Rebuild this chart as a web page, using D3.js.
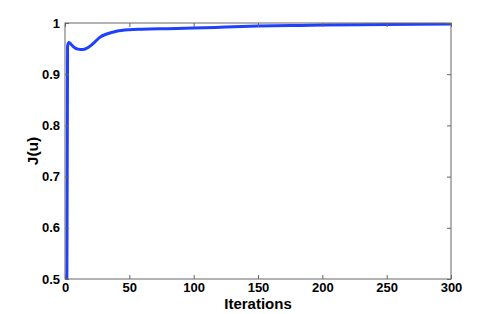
<!DOCTYPE html>
<html><head><meta charset="utf-8">
<script src="https://cdn.jsdelivr.net/npm/d3@7"></script>
<style>body{margin:0;background:#fff}svg{display:block}text{font-family:"Liberation Sans",Arial,Helvetica,sans-serif;font-weight:bold}</style>
</head><body>
<script>
const iterations = [1, 2, 3, 4, 6, 8, 10, 14, 18, 22, 27, 33, 40, 50, 60, 80, 100, 125, 150, 175, 200, 250, 300];
const jValues   = [0.1, 0.955, 0.962, 0.960, 0.955, 0.951, 0.949, 0.948, 0.952, 0.960, 0.972, 0.979, 0.984, 0.987, 0.988, 0.989, 0.990, 0.992, 0.994, 0.995, 0.996, 0.997, 0.998];
const xTicks = [0, 50, 100, 150, 200, 250, 300];
const yTicks = [0.5, 0.6, 0.7, 0.8, 0.9, 1];
const xLabel = "Iterations", yLabel = "J(u)";

const W = 498, H = 314;
const m = {l: 65, r: 47, t: 23, b: 35};
const svg = d3.select("body").append("svg").attr("width", W).attr("height", H);
const x = d3.scaleLinear().domain([0, 300]).range([m.l, W - m.r]);
const y = d3.scaleLinear().domain([0.5, 1]).range([H - m.b, m.t]);
const axisColor = "#666";

svg.append("clipPath").attr("id", "clip").append("rect")
  .attr("x", m.l).attr("y", m.t).attr("width", W - m.l - m.r).attr("height", H - m.t - m.b);

const line = d3.line().x((d, i) => x(iterations[i])).y(d => y(d)).curve(d3.curveMonotoneX);
svg.append("path").datum(jValues).attr("d", line).attr("clip-path", "url(#clip)")
  .attr("fill", "none").attr("stroke", "#2040ff").attr("stroke-width", 3).attr("stroke-linejoin", "round");

function styleAxis(g, labels) {
  g.select(".domain").remove();
  g.selectAll(".tick line").attr("stroke", axisColor);
  g.selectAll(".tick text").attr("fill", labels ? "#000" : "none").style("font-size", "13px");
}
svg.append("g").attr("transform", `translate(0,${H - m.b})`)
  .call(d3.axisBottom(x).tickValues(xTicks).tickSizeInner(-4).tickSizeOuter(0).tickPadding(4).tickFormat(d3.format("d")))
  .call(g => styleAxis(g, true));
svg.append("g").attr("transform", `translate(0,${m.t})`)
  .call(d3.axisTop(x).tickValues(xTicks).tickSizeInner(-4).tickSizeOuter(0).tickFormat(""))
  .call(g => styleAxis(g, false));
svg.append("g").attr("transform", `translate(${m.l},0)`)
  .call(d3.axisLeft(y).tickValues(yTicks).tickSizeInner(-4).tickSizeOuter(0).tickPadding(5).tickFormat(d => d === 1 ? "1" : d3.format(".1f")(d)))
  .call(g => styleAxis(g, true));
svg.append("g").attr("transform", `translate(${W - m.r},0)`)
  .call(d3.axisRight(y).tickValues(yTicks).tickSizeInner(-4).tickSizeOuter(0).tickFormat(""))
  .call(g => styleAxis(g, false));

svg.append("rect").attr("x", m.l).attr("y", m.t).attr("width", W - m.l - m.r).attr("height", H - m.t - m.b)
  .attr("fill", "none").attr("stroke", axisColor).attr("stroke-width", 1);

svg.append("text").attr("x", (m.l + W - m.r) / 2).attr("y", 309).attr("text-anchor", "middle")
  .style("font-size", "15px").text(xLabel);
svg.append("text").attr("transform", `translate(38,${(m.t + H - m.b) / 2}) rotate(-90)`).attr("text-anchor", "middle")
  .style("font-size", "15.5px").text(yLabel);
</script>
</body></html>
